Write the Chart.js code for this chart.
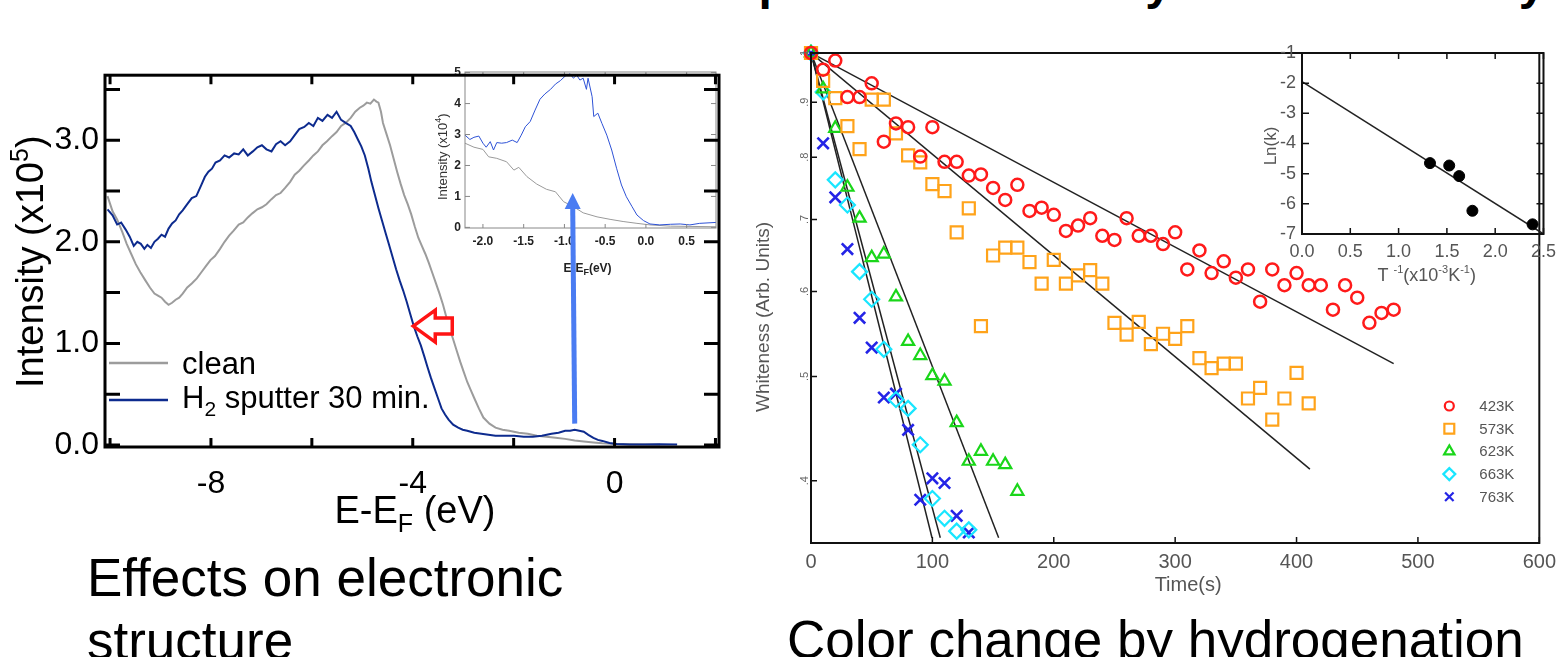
<!DOCTYPE html>
<html>
<head>
<meta charset="utf-8">
<script src="https://cdn.jsdelivr.net/npm/chart.js@4.4.1/dist/chart.umd.min.js"></script>
<style>
  html, body { margin: 0; padding: 0; background: #fff; }
  body { position: relative; width: 1563px; height: 657px; overflow: hidden; font-family: "Liberation Sans", Arial, sans-serif; }
  canvas { position: absolute; }
  .txt { position: absolute; white-space: nowrap; color: #000; }
  #title { left: 458px; top: -41px; font-size: 48px; line-height: 48px; font-weight: bold; }
  .cap { font-size: 53px; line-height: 63px; }
</style>
</head>
<body>
<div id="title" class="txt">Effect of Temperature on decay of whiteness by hydrogenation</div>
<canvas id="insetL" width="310" height="230" style="left:420px;top:60px"></canvas>
<canvas id="mainL" width="740" height="500" style="left:0;top:50px"></canvas>
<canvas id="mainR" width="823" height="600" style="left:740px;top:20px"></canvas>
<canvas id="insetR" width="323" height="250" style="left:1240px;top:35px"></canvas>
<div class="txt cap" style="left:87px;top:546px">Effects on electronic<br>structure</div>
<div class="txt cap" style="left:787px;top:608px">Color change by hydrogenation</div>
<script>
// ---- left: valence band spectra (x10^5) ----
const cleanE = [-10.05,-9.95,-9.86,-9.76,-9.67,-9.58,-9.49,-9.40,-9.30,-9.21,-9.12,-9.05,-8.98,-8.91,-8.84,-8.77,-8.70,-8.63,-8.56,-8.47,-8.38,-8.28,-8.19,-8.10,-8.01,-7.92,-7.82,-7.73,-7.64,-7.55,-7.45,-7.36,-7.27,-7.18,-7.08,-6.99,-6.90,-6.80,-6.71,-6.62,-6.53,-6.43,-6.34,-6.25,-6.16,-6.06,-5.97,-5.88,-5.79,-5.70,-5.60,-5.51,-5.42,-5.33,-5.23,-5.14,-5.05,-4.98,-4.91,-4.84,-4.77,-4.72,-4.68,-4.63,-4.59,-4.52,-4.45,-4.38,-4.31,-4.24,-4.17,-4.10,-4.03,-3.96,-3.89,-3.82,-3.75,-3.68,-3.61,-3.54,-3.47,-3.40,-3.34,-3.27,-3.20,-3.13,-3.06,-2.99,-2.92,-2.85,-2.78,-2.69,-2.60,-2.48,-2.36,-2.22,-2.09,-1.90,-1.72,-1.54,-1.35,-1.17,-0.98,-0.79,-0.61,-0.42,-0.24,0.04,0.40,0.90];
const cleanI = [2.45,2.30,2.22,2.10,1.98,1.88,1.78,1.70,1.62,1.55,1.49,1.47,1.45,1.41,1.38,1.40,1.43,1.45,1.49,1.55,1.59,1.64,1.70,1.76,1.82,1.86,1.93,2.00,2.06,2.11,2.17,2.19,2.24,2.28,2.32,2.34,2.37,2.42,2.46,2.48,2.53,2.59,2.66,2.70,2.75,2.80,2.85,2.89,2.95,2.99,3.04,3.08,3.14,3.17,3.22,3.28,3.32,3.34,3.37,3.36,3.40,3.38,3.37,3.28,3.17,3.06,2.95,2.82,2.69,2.57,2.46,2.37,2.27,2.15,2.04,1.96,1.88,1.79,1.69,1.59,1.49,1.38,1.27,1.15,1.04,0.93,0.82,0.72,0.62,0.54,0.46,0.36,0.27,0.21,0.17,0.15,0.14,0.12,0.11,0.09,0.08,0.07,0.06,0.045,0.035,0.025,0.016,0.01,0.006,0.005];
const h2E = [-10.05,-9.95,-9.86,-9.78,-9.69,-9.61,-9.53,-9.46,-9.39,-9.32,-9.26,-9.19,-9.12,-9.05,-8.98,-8.91,-8.84,-8.77,-8.70,-8.63,-8.56,-8.47,-8.38,-8.29,-8.19,-8.12,-8.05,-7.98,-7.91,-7.82,-7.73,-7.64,-7.54,-7.45,-7.36,-7.27,-7.17,-7.08,-6.99,-6.90,-6.80,-6.71,-6.62,-6.53,-6.43,-6.34,-6.25,-6.15,-6.06,-5.97,-5.88,-5.79,-5.69,-5.60,-5.51,-5.42,-5.33,-5.23,-5.16,-5.09,-5.02,-4.95,-4.88,-4.82,-4.75,-4.68,-4.61,-4.54,-4.47,-4.40,-4.33,-4.26,-4.19,-4.12,-4.05,-3.98,-3.91,-3.84,-3.77,-3.71,-3.64,-3.57,-3.50,-3.43,-3.36,-3.29,-3.20,-3.10,-3.01,-2.92,-2.78,-2.64,-2.50,-2.36,-2.18,-1.99,-1.80,-1.62,-1.44,-1.25,-1.11,-0.98,-0.88,-0.79,-0.70,-0.61,-0.52,-0.42,-0.33,-0.24,-0.10,0.04,0.30,0.60,0.90,1.24];
const h2I = [2.32,2.26,2.17,2.19,2.12,2.05,1.96,2.00,1.98,1.93,1.97,1.94,2.00,2.03,2.07,2.05,2.13,2.18,2.21,2.27,2.31,2.37,2.43,2.45,2.56,2.64,2.69,2.72,2.78,2.80,2.85,2.83,2.87,2.86,2.91,2.85,2.89,2.93,2.95,2.91,2.89,2.96,2.99,2.95,2.99,3.05,3.11,3.13,3.17,3.14,3.22,3.19,3.25,3.22,3.28,3.20,3.17,3.14,3.08,3.01,2.94,2.85,2.72,2.59,2.46,2.33,2.21,2.09,1.97,1.85,1.73,1.62,1.52,1.41,1.29,1.17,1.07,0.98,0.87,0.77,0.66,0.56,0.46,0.36,0.30,0.25,0.20,0.17,0.15,0.14,0.12,0.11,0.10,0.09,0.09,0.09,0.08,0.08,0.09,0.11,0.12,0.14,0.14,0.15,0.14,0.13,0.10,0.07,0.05,0.04,0.02,0.01,0.005,0.004,0.006,0.004];
// annotation anchors, in data units of the left panel
const edgeArrow = [-3.99, 1.17];
const gapArrowFrom = [-0.79, 0.21];
const gapArrowTo = [-0.83, 2.48];

// ---- left inset: near E_F (x10^4) ----
const insH2E = [-2.22,-2.16,-2.11,-2.05,-2.00,-1.96,-1.91,-1.87,-1.83,-1.77,-1.71,-1.64,-1.58,-1.53,-1.48,-1.42,-1.36,-1.30,-1.24,-1.17,-1.11,-1.05,-0.99,-0.93,-0.89,-0.85,-0.81,-0.77,-0.73,-0.71,-0.66,-0.64,-0.59,-0.54,-0.48,-0.42,-0.36,-0.30,-0.24,-0.17,-0.11,-0.03,0.05,0.17,0.30,0.42,0.54,0.66,0.86];
const insH2I = [2.98,2.84,2.91,2.95,2.72,2.59,2.77,2.50,2.74,2.72,2.74,2.82,2.74,2.98,3.25,3.42,3.79,4.14,4.31,4.46,4.63,4.74,4.89,4.96,4.82,4.92,4.76,4.82,4.46,4.82,4.22,3.58,3.69,3.36,2.98,2.50,1.91,1.37,0.99,0.67,0.40,0.22,0.11,0.08,0.10,0.11,0.08,0.13,0.16];
const insCleanE = [-2.22,-2.11,-2.00,-1.93,-1.83,-1.71,-1.62,-1.56,-1.46,-1.34,-1.22,-1.11,-1.01,-0.89,-0.77,-0.60,-0.44,-0.28,-0.11,0.05,0.30,0.86];
const insCleanI = [2.72,2.59,2.52,2.28,2.23,2.12,1.85,1.94,1.64,1.40,1.23,1.15,0.83,0.67,0.47,0.34,0.26,0.19,0.13,0.08,0.04,0.02];

// ---- right: whiteness vs time ----
const t423 = [0,10,20,30,40,50,60,70,80,90,100,110,120,130,140,150,160,170,180,190,200,210,220,230,240,250,260,270,280,290,300,310,320,330,340,350,360,370,380,390,400,410,420,430,440,450,460,470,480];
const w423 = [1,0.965,0.984,0.91,0.91,0.937,0.827,0.86,0.853,0.801,0.853,0.792,0.792,0.769,0.771,0.749,0.73,0.754,0.713,0.718,0.707,0.683,0.691,0.702,0.676,0.67,0.702,0.676,0.676,0.664,0.681,0.629,0.655,0.624,0.64,0.618,0.629,0.587,0.629,0.608,0.624,0.608,0.608,0.577,0.608,0.592,0.561,0.573,0.577];
const t573 = [0,10,20,30,40,50,60,70,80,90,100,110,120,130,140,150,160,170,180,190,200,210,220,230,240,250,260,270,280,290,300,310,320,330,340,350,360,370,380,390,400,410];
const w573 = [1,0.942,0.908,0.855,0.814,0.905,0.905,0.842,0.803,0.791,0.755,0.744,0.681,0.717,0.557,0.648,0.659,0.659,0.639,0.61,0.642,0.61,0.621,0.628,0.61,0.561,0.547,0.562,0.536,0.548,0.542,0.557,0.52,0.509,0.514,0.514,0.477,0.488,0.456,0.477,0.504,0.472];
const t623 = [0,10,20,30,40,50,60,70,80,90,100,110,120,130,140,150,160,170];
const w623 = [1,0.926,0.851,0.75,0.702,0.645,0.65,0.593,0.539,0.523,0.501,0.495,0.453,0.417,0.426,0.417,0.414,0.391];
const t663 = [0,10,20,30,40,50,60,70,80,90,100,110,120,130];
const w663 = [1,0.92,0.762,0.722,0.626,0.59,0.53,0.476,0.467,0.432,0.385,0.369,0.359,0.36];
const t763 = [0,10,20,30,40,50,60,70,80,90,100,110,120,130];
const w763 = [1,0.824,0.734,0.657,0.567,0.532,0.478,0.482,0.446,0.384,0.402,0.398,0.371,0.358];
// fitted decay lines (end points)
const fitT423 = [0, 480], fitW423 = [1, 0.514];
const fitT573 = [0, 411], fitW573 = [1, 0.41];
const fitT623 = [0, 154.6], fitW623 = [1, 0.354];
const fitT663 = [0, 106.5], fitW663 = [1, 0.354];
const fitT763 = [0, 99.7], fitW763 = [1, 0.354];
const tempLabels = ['423K', '573K', '623K', '663K', '763K'];
const whiteTicks = [0.4, 0.5, 0.6, 0.7, 0.8, 0.9, 1];
const whiteTickLabels = ['.4', '.5', '.6', '.7', '.8', '.9', '1'];

// ---- right inset: Arrhenius plot ----
const invT = [1.325, 1.524, 1.627, 1.764, 2.387];
const lnK = [-4.65, -4.73, -5.08, -6.23, -6.68];
const fitInvT = [0, 2.5], fitLnK = [-1.95, -7.0];

const FONT = '"Liberation Sans", Arial, sans-serif';
const NARROW = '"Liberation Sans Narrow", "Liberation Sans", Arial, sans-serif';
Chart.defaults.font.family = FONT;
Chart.defaults.animation = false;

const pts = (xs, ys) => xs.slice(0, Math.min(xs.length, ys.length)).map((x, i) => ({x: x, y: ys[i]}));

// text with sub/superscripts: parts = [text, size, baselineShift]
function drawRich(ctx, x, y, parts, o) {
  ctx.save();
  ctx.translate(x, y);
  if (o.rot) ctx.rotate(o.rot);
  ctx.fillStyle = o.color || '#000';
  ctx.textBaseline = 'alphabetic';
  ctx.textAlign = 'left';
  const f = s => (o.weight || 'normal') + ' ' + s + 'px ' + (o.family || FONT);
  let w = 0;
  parts.forEach(p => { ctx.font = f(p[1]); w += ctx.measureText(p[0]).width; });
  let cx = o.align === 'center' ? -w / 2 : 0;
  parts.forEach(p => {
    ctx.font = f(p[1]);
    ctx.fillText(p[0], cx, p[2] || 0);
    cx += ctx.measureText(p[0]).width;
  });
  ctx.restore();
}

// closed frame with inward tick marks
const frameTicks = {
  id: 'frameTicks',
  afterDatasetsDraw(chart, args, o) {
    const {ctx, chartArea: a, scales: {x, y}} = chart;
    ctx.save();
    ctx.strokeStyle = o.color;
    ctx.lineWidth = o.tickWidth;
    ctx.beginPath();
    x.ticks.forEach(t => {
      const px = x.getPixelForValue(t.value);
      if (o.bottom) { ctx.moveTo(px, a.bottom); ctx.lineTo(px, a.bottom - o.xLen); }
      if (o.top) { ctx.moveTo(px, a.top); ctx.lineTo(px, a.top + o.xLen); }
    });
    y.ticks.forEach(t => {
      const py = y.getPixelForValue(t.value);
      if (o.left) { ctx.moveTo(a.left, py); ctx.lineTo(a.left + o.yLen, py); }
      if (o.right) { ctx.moveTo(a.right, py); ctx.lineTo(a.right - o.yLen, py); }
    });
    ctx.stroke();
    ctx.lineWidth = o.frameWidth;
    ctx.strokeRect(a.left, a.top, a.width, a.height);
    ctx.restore();
  }
};

const leftDecor = {
  id: 'leftDecor',
  afterDraw(chart) {
    const {ctx, chartArea: a, scales: {x, y}} = chart;
    ctx.save();
    // hollow red arrow at the shifted band edge
    const rx = x.getPixelForValue(edgeArrow[0]), ry = y.getPixelForValue(edgeArrow[1]);
    ctx.beginPath();
    ctx.moveTo(rx, ry);
    ctx.lineTo(rx + 22, ry - 16); ctx.lineTo(rx + 22, ry - 8); ctx.lineTo(rx + 39, ry - 8);
    ctx.lineTo(rx + 39, ry + 8); ctx.lineTo(rx + 22, ry + 8); ctx.lineTo(rx + 22, ry + 16);
    ctx.closePath();
    ctx.fillStyle = '#fff'; ctx.fill();
    ctx.strokeStyle = '#ff1414'; ctx.lineWidth = 3.5; ctx.stroke();
    // blue arrow from the gap state up to the inset
    const bx0 = x.getPixelForValue(gapArrowFrom[0]), by0 = y.getPixelForValue(gapArrowFrom[1]);
    const bx1 = x.getPixelForValue(gapArrowTo[0]), by1 = y.getPixelForValue(gapArrowTo[1]);
    ctx.strokeStyle = ctx.fillStyle = '#4a7cf2';
    ctx.lineWidth = 5;
    ctx.beginPath(); ctx.moveTo(bx0, by0); ctx.lineTo(bx1, by1 + 12); ctx.stroke();
    ctx.beginPath(); ctx.moveTo(bx1, by1); ctx.lineTo(bx1 - 8, by1 + 16); ctx.lineTo(bx1 + 8, by1 + 16); ctx.closePath(); ctx.fill();
    // legend
    const ds = chart.data.datasets;
    ctx.lineWidth = 2.5;
    ctx.strokeStyle = ds[1].borderColor;
    ctx.beginPath(); ctx.moveTo(a.left + 4, a.bottom - 84); ctx.lineTo(a.left + 63, a.bottom - 84); ctx.stroke();
    ctx.strokeStyle = ds[0].borderColor;
    ctx.beginPath(); ctx.moveTo(a.left + 4, a.bottom - 47); ctx.lineTo(a.left + 63, a.bottom - 47); ctx.stroke();
    drawRich(ctx, a.left + 77, a.bottom - 73, [['clean', 31]], {});
    drawRich(ctx, a.left + 77, a.bottom - 39, [['H', 31], ['2', 21, 8], [' sputter 30 min.', 31]], {});
    // axis titles
    drawRich(ctx, (a.left + a.right) / 2 + 3, a.bottom + 76, [['E-E', 38], ['F', 25, 9], [' (eV)', 38]], {align: 'center'});
    drawRich(ctx, 43, a.bottom - 59, [['Intensity (x10', 38], ['5', 25, -15], [')', 38]], {rot: -Math.PI / 2});
    ctx.restore();
  }
};

const insetLDecor = {
  id: 'insetLDecor',
  afterDraw(chart) {
    const {ctx, chartArea: a} = chart;
    drawRich(ctx, 27, a.bottom - 28, [['Intensity (x10', 13], ['4', 9, -6], [')', 13]], {rot: -Math.PI / 2, color: '#333'});
    drawRich(ctx, (a.left + a.right) / 2 - 3, a.bottom + 44, [['E-E', 12], ['F', 9, 3], ['(eV)', 12]], {align: 'center', weight: 'bold', family: NARROW, color: '#222'});
  }
};

const rightDecor = {
  id: 'rightDecor',
  afterDraw(chart) {
    const {ctx, chartArea: a, scales: {y}} = chart;
    whiteTicks.forEach((v, i) => {
      drawRich(ctx, a.left - 3, y.getPixelForValue(v), [[whiteTickLabels[i], 11]], {rot: -Math.PI / 2, align: 'center', color: '#666'});
    });
    drawRich(ctx, 29, 297, [['Whiteness (Arb. Units)', 19]], {rot: -Math.PI / 2, align: 'center', color: '#555'});
    drawRich(ctx, (a.left + a.right) / 2 + 13, a.bottom + 48, [['Time(s)', 20]], {align: 'center', color: '#555'});
    // legend inside the plot
    const ds = chart.data.datasets;
    for (let i = 0; i < 5; i++) {
      const d = ds[i], ly = a.bottom - 137 + i * 22.7, lx = a.right - 90;
      ctx.save();
      ctx.strokeStyle = d.borderColor;
      ctx.fillStyle = 'rgba(0,0,0,0)';
      ctx.lineWidth = 2.2;
      Chart.helpers.drawPoint(ctx, {pointStyle: d.pointStyle, radius: d.legendRadius, rotation: 0, borderWidth: 2.2}, lx, ly);
      ctx.restore();
      drawRich(ctx, lx + 30, ly + 5, [[tempLabels[i], 15]], {color: '#555', family: NARROW});
    }
  }
};

const insetRDecor = {
  id: 'insetRDecor',
  afterDraw(chart) {
    const {ctx, chartArea: a} = chart;
    drawRich(ctx, 36, 111, [['Ln(k)', 17]], {rot: -Math.PI / 2, align: 'center', color: '#555'});
    drawRich(ctx, (a.left + a.right) / 2 + 4, a.bottom + 47,
      [['T ', 18], ['-1', 11, -8], ['(x10', 18], ['-3', 11, -8], ['K', 18], ['-1', 11, -8], [')', 18]],
      {align: 'center', color: '#555'});
  }
};

const noScaleLine = {grid: {display: false, drawTicks: false}, border: {display: false}};

// left main spectrum
new Chart(document.getElementById('mainL'), {
  type: 'scatter',
  data: {datasets: [
    {label: 'H2 sputter 30 min.', data: pts(h2E, h2I), showLine: true, borderColor: '#0d2b8e', borderWidth: 2, pointRadius: 0},
    {label: 'clean', data: pts(cleanE, cleanI), showLine: true, borderColor: '#9c9c9c', borderWidth: 2, pointRadius: 0}
  ]},
  options: {
    responsive: false, events: [],
    layout: {padding: {top: 18, right: 21, left: 0, bottom: 0}},
    plugins: {legend: {display: false}, tooltip: {enabled: false},
      frameTicks: {color: '#000', tickWidth: 3, xLen: 9, yLen: 15, frameWidth: 3, top: true, bottom: true, left: true, right: true}},
    scales: {
      x: Object.assign({type: 'linear', min: -10.1, max: 2.07, afterFit: s => { s.height = 103; },
        ticks: {stepSize: 2, includeBounds: false, autoSkip: false, padding: 18, color: '#000', font: {size: 32},
          callback: v => (v % 4 === 0 ? String(v) : '')}}, noScaleLine),
      y: Object.assign({min: -0.02, max: 3.64, afterFit: s => { s.width = 105; },
        ticks: {stepSize: 0.5, includeBounds: false, autoSkip: false, padding: 6, color: '#000', font: {size: 32},
          callback: v => (Math.abs(v - Math.round(v)) < 1e-6 ? v.toFixed(1) : '')}}, noScaleLine)
    }
  },
  plugins: [frameTicks, leftDecor]
});

// left inset
new Chart(document.getElementById('insetL'), {
  type: 'scatter',
  data: {datasets: [
    {data: pts(insH2E, insH2I), showLine: true, borderColor: '#2e52d6', borderWidth: 1, pointRadius: 0},
    {data: pts(insCleanE, insCleanI), showLine: true, borderColor: '#9a9a9a', borderWidth: 1, pointRadius: 0}
  ]},
  options: {
    responsive: false, events: [],
    layout: {padding: {top: 12, right: 14, left: 0, bottom: 0}},
    plugins: {legend: {display: false}, tooltip: {enabled: false},
      frameTicks: {color: '#888', tickWidth: 1, xLen: 4, yLen: 5, frameWidth: 1, top: true, bottom: true, left: true, right: true}},
    scales: {
      x: Object.assign({type: 'linear', min: -2.22, max: 0.86, afterFit: s => { s.height = 62; },
        ticks: {stepSize: 0.5, includeBounds: false, autoSkip: false, padding: 6, color: '#222',
          font: {size: 12, weight: 'bold', family: NARROW}, callback: v => v.toFixed(1)}}, noScaleLine),
      y: Object.assign({min: -0.02, max: 5.02, afterFit: s => { s.width = 45; },
        ticks: {stepSize: 1, includeBounds: false, autoSkip: false, padding: 4, color: '#222',
          font: {size: 12, weight: 'bold', family: NARROW}, callback: v => String(v)}}, noScaleLine)
    }
  },
  plugins: [frameTicks, insetLDecor]
});

// right main: whiteness decay
const marker = (label, t, w, color, style, r, lr, bw) => ({label: label, data: pts(t, w), borderColor: color,
  backgroundColor: 'rgba(0,0,0,0)', pointStyle: style, pointRadius: r, pointBorderWidth: bw, legendRadius: lr, clip: false});
const fitLine = (t, w) => ({data: pts(t, w), showLine: true, borderColor: '#222', borderWidth: 1.5, pointRadius: 0});
new Chart(document.getElementById('mainR'), {
  type: 'scatter',
  data: {datasets: [
    marker(tempLabels[0], t423, w423, '#ff1a1a', 'circle', 6, 4.5, 2.5),
    marker(tempLabels[1], t573, w573, '#ffa31a', 'rect', 8.5, 7, 2.2),
    marker(tempLabels[2], t623, w623, '#1ad61a', 'triangle', 7, 6, 2.2),
    marker(tempLabels[3], t663, w663, '#19e6ff', 'rectRot', 7.5, 6, 2.2),
    marker(tempLabels[4], t763, w763, '#2424e6', 'crossRot', 8, 6, 2.6),
    fitLine(fitT423, fitW423), fitLine(fitT573, fitW573), fitLine(fitT623, fitW623),
    fitLine(fitT663, fitW663), fitLine(fitT763, fitW763)
  ]},
  options: {
    responsive: false, events: [],
    layout: {padding: {top: 33, right: 16, left: 0, bottom: 0}},
    plugins: {legend: {display: false}, tooltip: {enabled: false},
      frameTicks: {color: '#111', tickWidth: 1.5, xLen: 6, yLen: 6, frameWidth: 2, bottom: true, left: true}},
    scales: {
      x: Object.assign({type: 'linear', min: 0, max: 600, afterFit: s => { s.height = 77; },
        ticks: {stepSize: 100, padding: 7, color: '#555', font: {size: 20}}}, noScaleLine),
      y: Object.assign({type: 'logarithmic', min: 0.354, max: 1, afterFit: s => { s.width = 71; },
        afterBuildTicks: s => { s.ticks = whiteTicks.map(v => ({value: v})); },
        ticks: {display: false}}, noScaleLine)
    }
  },
  plugins: [frameTicks, rightDecor]
});

// right inset: ln k vs 1/T
new Chart(document.getElementById('insetR'), {
  type: 'scatter',
  data: {datasets: [
    {data: pts(invT, lnK), backgroundColor: '#000', borderColor: '#000', pointRadius: 5.5, clip: false},
    {data: pts(fitInvT, fitLnK), showLine: true, borderColor: '#222', borderWidth: 1.5, pointRadius: 0}
  ]},
  options: {
    responsive: false, events: [],
    layout: {padding: {top: 18, right: 17, left: 0, bottom: 0}},
    plugins: {legend: {display: false}, tooltip: {enabled: false},
      frameTicks: {color: '#111', tickWidth: 1.5, xLen: 6, yLen: 7, frameWidth: 2, top: true, bottom: true, left: true, right: true}},
    scales: {
      x: Object.assign({type: 'linear', min: 0, max: 2.5, afterFit: s => { s.height = 51; },
        ticks: {stepSize: 0.5, padding: 7, color: '#555', font: {size: 18}, callback: v => v.toFixed(1)}}, noScaleLine),
      y: Object.assign({min: -7, max: -1, afterFit: s => { s.width = 62; },
        ticks: {stepSize: 1, padding: 6, color: '#555', font: {size: 18}, callback: v => String(v)}}, noScaleLine)
    }
  },
  plugins: [frameTicks, insetRDecor]
});
</script>
</body>
</html>
